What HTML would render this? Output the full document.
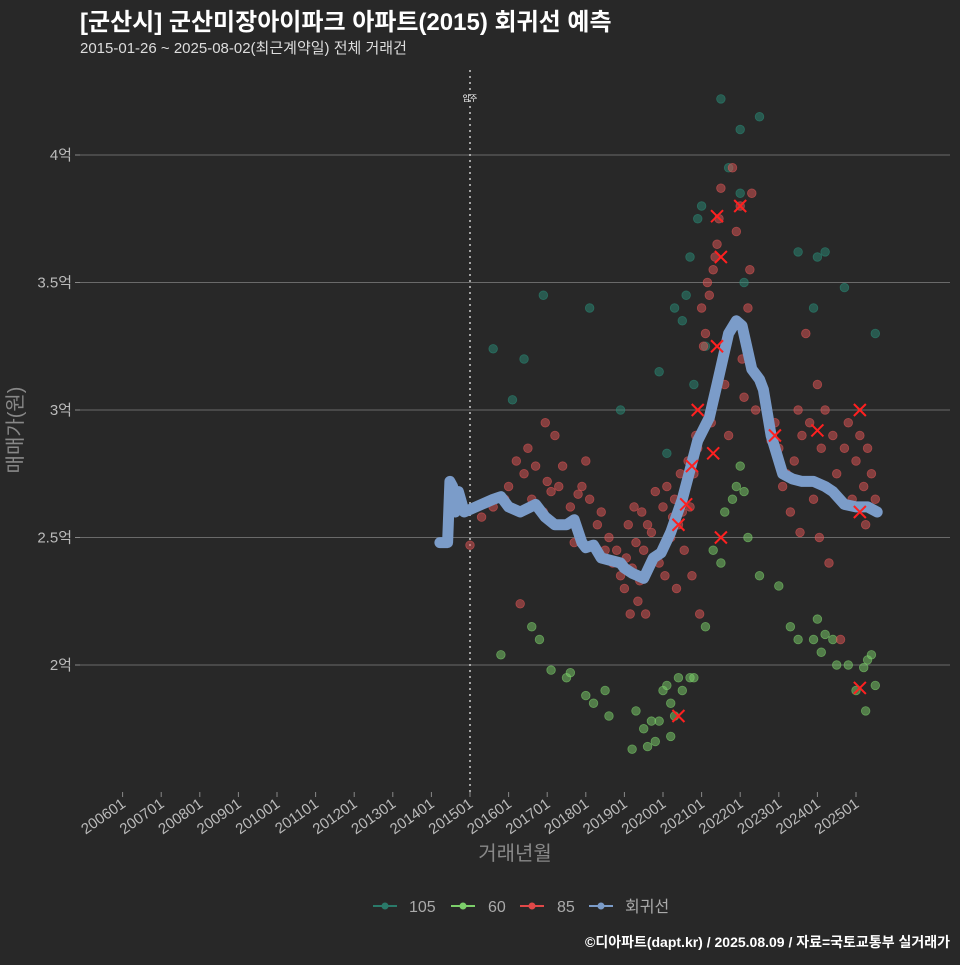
<!DOCTYPE html>
<html><head><meta charset="utf-8"><style>
body{margin:0;background:#282828;}
svg text{font-family:"Liberation Sans","Noto Sans CJK KR",sans-serif;}
</style></head><body>
<svg width="960" height="960" viewBox="0 0 960 960" xmlns="http://www.w3.org/2000/svg">
<rect width="960" height="960" fill="#282828"/>
<text x="80" y="30" fill="#ffffff" font-size="24" font-weight="bold">[군산시] 군산미장아이파크 아파트(2015) 회귀선 예측</text>
<text x="80" y="53" fill="#dddddd" font-size="15">2015-01-26 ~ 2025-08-02(최근계약일) 전체 거래건</text>
<g id="grid"></g>
<g id="yticks"></g>
<g id="xticks"></g>
<line x1="470" y1="70" x2="470" y2="792" stroke="#cccccc" stroke-width="1.5" stroke-dasharray="2,4"/>
<text x="470" y="101" fill="#ffffff" font-size="8" text-anchor="middle">입주</text>
<g id="pts"></g>
<path id="reg" fill="none" stroke="#7b9cc9" stroke-width="11" stroke-linejoin="round" stroke-linecap="round"/>
<g id="xmarks"></g>
<text transform="translate(22,430) rotate(-90)" fill="#888888" font-size="20" text-anchor="middle">매매가(원)</text>
<text x="515" y="860" fill="#888888" font-size="20" text-anchor="middle">거래년월</text>
<g>
<g><line x1="373" y1="906" x2="397" y2="906" stroke="#2a7a6a" stroke-width="2"/><circle cx="385" cy="906" r="3.5" fill="#2a7a6a"/><text x="409" y="912" fill="#aaaaaa" font-size="16">105</text></g>
<g><line x1="451" y1="906" x2="475" y2="906" stroke="#7ccf6a" stroke-width="2"/><circle cx="463" cy="906" r="3.5" fill="#7ccf6a"/><text x="488" y="912" fill="#aaaaaa" font-size="16">60</text></g>
<g><line x1="520" y1="906" x2="544" y2="906" stroke="#e04848" stroke-width="2"/><circle cx="532" cy="906" r="3.5" fill="#e04848"/><text x="557" y="912" fill="#aaaaaa" font-size="16">85</text></g>
<g><line x1="589" y1="906" x2="613" y2="906" stroke="#7b9cc9" stroke-width="2"/><circle cx="601" cy="906" r="3.5" fill="#7b9cc9"/><text x="625" y="912" fill="#aaaaaa" font-size="16">회귀선</text></g>
</g>
<text x="950" y="947" fill="#ffffff" font-size="14" font-weight="bold" text-anchor="end">©디아파트(dapt.kr) / 2025.08.09 / 자료=국토교통부 실거래가</text>
</svg>
<script>
const yTicks=[2,2.5,3,3.5,4];
const yTickLabels=["2억","2.5억","3억","3.5억","4억"];
const xTickYears=[2006,2007,2008,2009,2010,2011,2012,2013,2014,2015,2016,2017,2018,2019,2020,2021,2022,2023,2024,2025];
const xTickLabels=["200601","200701","200801","200901","201001","201101","201201","201301","201401","201501","201601","201701","201801","201901","202001","202101","202201","202301","202401","202501"];
const regYears=[2014.22,2014.42,2014.48,2014.55,2014.62,2014.7,2014.85,2015.0,2015.3,2015.6,2015.8,2016.0,2016.3,2016.7,2016.95,2017.2,2017.5,2017.7,2017.9,2018.0,2018.2,2018.4,2018.9,2019.0,2019.2,2019.5,2019.75,2019.95,2020.2,2020.5,2020.9,2021.2,2021.4,2021.7,2021.9,2022.05,2022.3,2022.5,2022.6,2022.8,2023.1,2023.35,2023.6,2023.9,2024.2,2024.4,2024.7,2025.0,2025.3,2025.55];
const regValues=[2.48,2.48,2.72,2.7,2.6,2.68,2.6,2.61,2.63,2.65,2.66,2.62,2.6,2.63,2.58,2.55,2.55,2.57,2.48,2.46,2.47,2.42,2.4,2.38,2.36,2.34,2.42,2.44,2.52,2.65,2.88,2.97,3.1,3.3,3.35,3.33,3.16,3.12,3.08,2.9,2.75,2.73,2.72,2.72,2.7,2.68,2.63,2.62,2.62,2.6];
const p85=[[2015.0,2.47],[2015.3,2.58],[2015.6,2.62],[2015.9,2.65],[2016.0,2.7],[2016.2,2.8],[2016.3,2.24],[2016.4,2.75],[2016.5,2.85],[2016.6,2.65],[2016.7,2.78],[2016.9,2.6],[2017.0,2.72],[2017.1,2.68],[2016.95,2.95],[2017.2,2.9],[2017.3,2.7],[2017.4,2.78],[2017.5,2.55],[2017.6,2.62],[2017.7,2.48],[2017.8,2.67],[2017.9,2.7],[2018.0,2.8],[2018.1,2.65],[2018.3,2.55],[2018.4,2.6],[2018.5,2.45],[2018.6,2.5],[2018.7,2.4],[2018.8,2.45],[2018.9,2.35],[2019.0,2.3],[2019.05,2.42],[2019.1,2.55],[2019.15,2.2],[2019.2,2.38],[2019.25,2.62],[2019.3,2.48],[2019.35,2.25],[2019.4,2.33],[2019.45,2.6],[2019.5,2.45],[2019.55,2.2],[2019.6,2.55],[2019.7,2.52],[2019.8,2.68],[2019.9,2.4],[2020.0,2.62],[2020.05,2.35],[2020.1,2.7],[2020.2,2.5],[2020.25,2.58],[2020.3,2.65],[2020.35,2.3],[2020.4,2.55],[2020.45,2.75],[2020.5,2.6],[2020.55,2.45],[2020.6,2.7],[2020.65,2.8],[2020.7,2.62],[2020.75,2.35],[2020.8,2.75],[2020.85,2.9],[2020.9,2.85],[2020.95,2.2],[2021.0,3.4],[2021.05,3.25],[2021.1,3.3],[2021.15,3.5],[2021.2,3.45],[2021.25,2.95],[2021.3,3.55],[2021.35,3.6],[2021.4,3.65],[2021.45,3.75],[2021.5,3.87],[2021.55,3.2],[2021.6,3.1],[2021.7,2.9],[2021.8,3.95],[2021.9,3.7],[2022.0,3.8],[2022.05,3.2],[2022.1,3.05],[2022.2,3.4],[2022.25,3.55],[2022.3,3.85],[2022.4,3.0],[2022.8,2.88],[2022.9,2.95],[2023.0,2.85],[2023.1,2.7],[2023.2,2.75],[2023.3,2.6],[2023.4,2.8],[2023.5,3.0],[2023.55,2.52],[2023.6,2.9],[2023.7,3.3],[2023.8,2.95],[2023.9,2.65],[2024.0,3.1],[2024.05,2.5],[2024.1,2.85],[2024.2,3.0],[2024.3,2.4],[2024.4,2.9],[2024.5,2.75],[2024.6,2.1],[2024.7,2.85],[2024.8,2.95],[2024.9,2.65],[2025.0,2.8],[2025.1,2.9],[2025.2,2.7],[2025.25,2.55],[2025.3,2.85],[2025.4,2.75],[2025.5,2.65]];
const p105=[[2015.6,3.24],[2016.1,3.04],[2016.4,3.2],[2016.9,3.45],[2018.1,3.4],[2018.9,3.0],[2019.9,3.15],[2020.3,3.4],[2020.1,2.83],[2020.5,3.35],[2020.6,3.45],[2020.7,3.6],[2020.8,3.1],[2020.9,3.75],[2021.0,3.8],[2021.1,3.25],[2021.5,4.22],[2021.7,3.95],[2022.0,4.1],[2022.5,4.15],[2022.0,3.85],[2023.5,3.62],[2024.0,3.6],[2024.2,3.62],[2024.7,3.48],[2025.5,3.3],[2023.9,3.4],[2022.1,3.5]];
const p60=[[2015.8,2.04],[2017.1,1.98],[2017.5,1.95],[2017.6,1.97],[2018.0,1.88],[2018.2,1.85],[2018.5,1.9],[2018.6,1.8],[2019.2,1.67],[2019.3,1.82],[2019.5,1.75],[2019.6,1.68],[2019.7,1.78],[2019.9,1.78],[2020.0,1.9],[2020.1,1.92],[2020.2,1.85],[2020.3,1.8],[2020.4,1.95],[2020.5,1.9],[2020.7,1.95],[2020.8,1.95],[2021.1,2.15],[2021.3,2.45],[2021.5,2.4],[2021.6,2.6],[2021.8,2.65],[2021.9,2.7],[2022.0,2.78],[2022.1,2.68],[2022.2,2.5],[2022.5,2.35],[2023.0,2.31],[2023.3,2.15],[2023.5,2.1],[2023.9,2.1],[2024.0,2.18],[2024.1,2.05],[2024.2,2.12],[2024.4,2.1],[2024.5,2.0],[2024.8,2.0],[2025.0,1.9],[2025.2,1.99],[2025.3,2.02],[2025.5,1.92],[2025.25,1.82],[2025.4,2.04],[2016.8,2.1],[2016.6,2.15],[2019.8,1.7],[2020.2,1.72]];
const xMarks=[[2020.4,2.55],[2020.6,2.63],[2020.75,2.78],[2020.9,3.0],[2021.3,2.83],[2021.4,3.25],[2021.5,3.6],[2021.4,3.76],[2021.5,2.5],[2022.0,3.8],[2022.9,2.9],[2024.0,2.92],[2025.1,3.0],[2025.1,2.6],[2025.1,1.91],[2020.4,1.8]];
const NS="http://www.w3.org/2000/svg";
function sx(y){return 470+(y-2015)*38.6;}
function sy(v){return 665-(v-2)*255;}
function mk(tag,attrs,parent){const e=document.createElementNS(NS,tag);for(const k in attrs)e.setAttribute(k,attrs[k]);parent.appendChild(e);return e;}
const grid=document.getElementById('grid'),yt=document.getElementById('yticks'),xt=document.getElementById('xticks');
yTicks.forEach((v,i)=>{
  const l=mk('line',{x1:80,x2:950,y1:sy(v),y2:sy(v),stroke:'#6a6a6a','stroke-width':1},grid);
  
  
  const t=mk('text',{x:72,y:sy(v)+5,fill:'#bbbbbb','font-size':15,'text-anchor':'end'},yt);
  t.textContent=yTickLabels[i];
  
  
  const tk=mk('line',{x1:75,x2:80,y1:sy(v),y2:sy(v),stroke:'#888'},yt);
  
  
});
xTickYears.forEach((yr,i)=>{
  const x=sx(yr);
  const tk=mk('line',{x1:x,x2:x,y1:792,y2:797,stroke:'#888'},xt);
  
  
  const t=mk('text',{x:x+4,y:806,fill:'#bbbbbb','font-size':15,'text-anchor':'end',transform:`rotate(-35 ${x+4} 806)`},xt);
  t.textContent=xTickLabels[i];
  
  
});
const pts=document.getElementById('pts');
function drawPts(arr,color,name){arr.forEach(p=>{
  const c=mk('circle',{cx:sx(p[0]),cy:sy(p[1]),r:4.3,fill:color,'fill-opacity':0.5,stroke:color,'stroke-opacity':0.6,'stroke-width':0.8},pts);
  
  
});}
drawPts(p105,'#2a8a76','point-105');
drawPts(p60,'#7ccf6a','point-60');
drawPts(p85,'#e05555','point-85');
document.getElementById('reg').setAttribute('d',regYears.map((y,i)=>(i?'L':'M')+sx(y).toFixed(1)+','+sy(regValues[i]).toFixed(1)).join(''));
const xm=document.getElementById('xmarks');
xMarks.forEach(p=>{const x=sx(p[0]),y=sy(p[1]);
  const g=mk('path',{d:`M${x-6},${y-6}L${x+6},${y+6}M${x+6},${y-6}L${x-6},${y+6}`,stroke:'#ff2020','stroke-width':2},xm);
  
  
});
</script>
</body></html>
